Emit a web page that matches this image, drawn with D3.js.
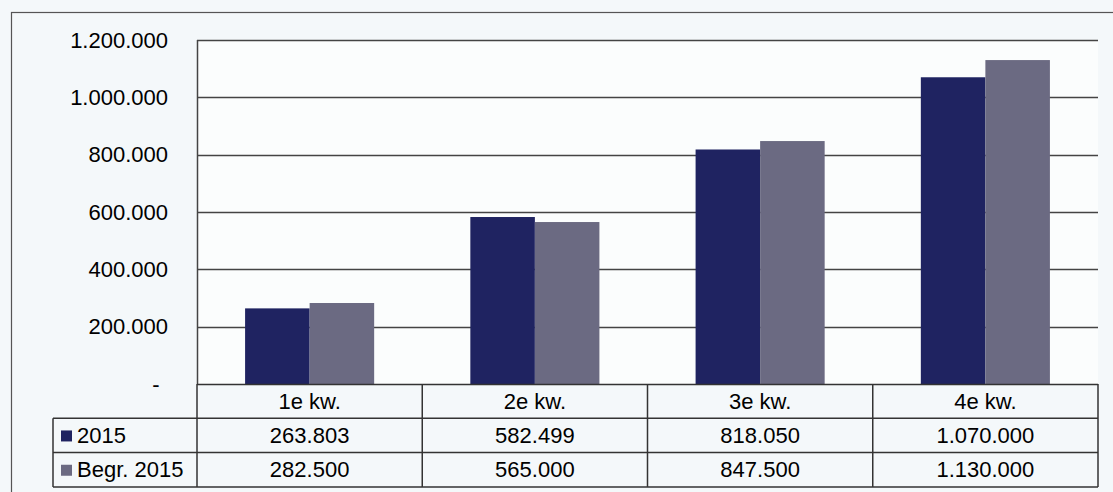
<!DOCTYPE html>
<html><head><meta charset="utf-8">
<script src="https://cdn.jsdelivr.net/npm/d3@7"></script>
<style>
html,body{margin:0;padding:0;background:#f4f8fa;}
svg{display:block;font-family:"Liberation Sans",Arial,sans-serif;}
</style></head><body>
<svg id="c" width="1113" height="492"></svg>
<script>
const categories = ["1e kw.", "2e kw.", "3e kw.", "4e kw."];
const seriesNames = ["2015", "Begr. 2015"];
const values2015 = [263803, 582499, 818050, 1070000];
const valuesBegr = [282500, 565000, 847500, 1130000];
const tableLabels2015 = ["263.803", "582.499", "818.050", "1.070.000"];
const tableLabelsBegr = ["282.500", "565.000", "847.500", "1.130.000"];
const yTicks = [0, 200000, 400000, 600000, 800000, 1000000, 1200000];
const yTickLabels = ["-", "200.000", "400.000", "600.000", "800.000", "1.000.000", "1.200.000"];
const colors = ["#1f2361", "#6b6a82"];

const svg = d3.select("#c");
const L = 197, R = 1098, T = 40, B = 384;
const rowH = 34.3;
const tableLeft = 53;
const FS = 22;

svg.append("rect").attr("x", 11.5).attr("y", 12.5).attr("width", 1120).attr("height", 490)
  .attr("fill", "#f4f8fa").attr("stroke", "#555").attr("stroke-width", 1.2);

const x = d3.scaleBand().domain(categories).range([L, R]).paddingInner(0).paddingOuter(0);
const y = d3.scaleLinear().domain([0, 1200000]).range([B, T]);
const innerW = x.bandwidth() * 0.573;
const inner2 = d3.scaleBand().domain(seriesNames)
  .range([(x.bandwidth() - innerW) / 2, (x.bandwidth() + innerW) / 2]);

svg.append("rect").attr("x", L).attr("y", T).attr("width", R - L).attr("height", B - T).attr("fill", "#fbfdfd");

svg.append("g").selectAll("line").data(yTicks.filter(d => d > 0)).join("line")
  .attr("x1", L).attr("x2", R)
  .attr("y1", d => Math.round(y(d)) + 0.5).attr("y2", d => Math.round(y(d)) + 0.5)
  .attr("stroke", "#444").attr("stroke-width", 1.5);

svg.append("g").selectAll("text").data(yTicks).join("text")
  .attr("x", (d) => d === 0 ? 156 : 168)
  .attr("y", d => y(d))
  .attr("dy", "0.35em")
  .attr("text-anchor", d => d === 0 ? "middle" : "end")
  .attr("font-size", FS).attr("fill", "#000")
  .text((d, i) => yTickLabels[i]);

const allSeries = [values2015, valuesBegr];
const g = svg.append("g");
allSeries.forEach((vals, si) => {
  g.selectAll(".s" + si).data(vals).join("rect")
    .attr("x", (d, i) => x(categories[i]) + inner2(seriesNames[si]))
    .attr("width", inner2.bandwidth())
    .attr("y", d => y(d))
    .attr("height", d => y(0) - y(d))
    .attr("fill", colors[si]);
});

svg.append("line").attr("x1", L + 0.5).attr("x2", L + 0.5).attr("y1", T).attr("y2", B)
  .attr("stroke", "#444").attr("stroke-width", 1.5);

const tg = svg.append("g");
const rows = [B, B + rowH, B + 2 * rowH, B + 3 * rowH];
const lc = "#333", lw = 1.5;
tg.append("line").attr("x1", L).attr("x2", R).attr("y1", rows[0] + 0.5).attr("y2", rows[0] + 0.5)
  .attr("stroke", lc).attr("stroke-width", lw);
[rows[1], rows[2], rows[3]].forEach(yy => {
  tg.append("line").attr("x1", tableLeft).attr("x2", R).attr("y1", yy).attr("y2", yy)
    .attr("stroke", lc).attr("stroke-width", lw);
});
tg.append("line").attr("x1", tableLeft).attr("x2", tableLeft).attr("y1", rows[1]).attr("y2", rows[3])
  .attr("stroke", lc).attr("stroke-width", lw);
categories.forEach(c => {
  tg.append("line").attr("x1", x(c)).attr("x2", x(c)).attr("y1", rows[0]).attr("y2", rows[3])
    .attr("stroke", lc).attr("stroke-width", lw);
});
tg.append("line").attr("x1", R).attr("x2", R).attr("y1", rows[0]).attr("y2", rows[3])
  .attr("stroke", lc).attr("stroke-width", lw);

tg.selectAll(".hdr").data(categories).join("text")
  .attr("x", d => x(d) + x.bandwidth() / 2).attr("y", rows[0] + rowH / 2).attr("dy", "0.35em")
  .attr("text-anchor", "middle").attr("font-size", FS).attr("fill", "#000").text(d => d);

const tableLabels = [tableLabels2015, tableLabelsBegr];
seriesNames.forEach((s, si) => {
  const cy = rows[1 + si] + rowH / 2;
  tg.append("rect").attr("x", 61).attr("y", cy - 5).attr("width", 11).attr("height", 11).attr("fill", colors[si]);
  tg.append("text").attr("x", 77).attr("y", cy).attr("dy", "0.35em")
    .attr("font-size", FS).attr("fill", "#000").text(s);
  tg.selectAll(".v" + si).data(tableLabels[si]).join("text")
    .attr("x", (d, i) => x(categories[i]) + x.bandwidth() / 2).attr("y", cy).attr("dy", "0.35em")
    .attr("text-anchor", "middle").attr("font-size", FS).attr("fill", "#000").text(d => d);
});
</script>
</body></html>
